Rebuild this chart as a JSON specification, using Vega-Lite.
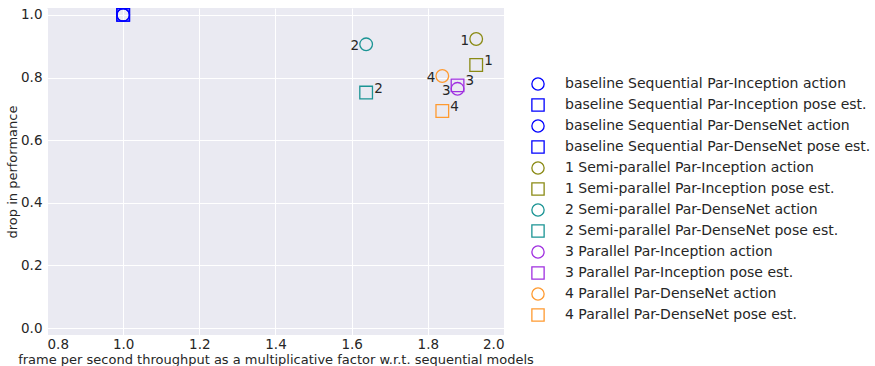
{
  "$schema": "https://vega.github.io/schema/vega-lite/v6.json",
  "autosize": "none",
  "width": 457,
  "height": 327,
  "padding": {"left": 47, "top": 8, "right": 371, "bottom": 31},
  "background": "white",
  "config": {
    "view": {"fill": "#EAEAF2", "stroke": null},
    "font": "DejaVu Sans",
    "axis": {
      "domain": false, "ticks": false, "gridColor": "white", "gridWidth": 1,
      "labelFont": "DejaVu Sans", "labelFontSize": 13.5, "labelColor": "#262626",
      "titleFont": "DejaVu Sans", "titleFontSize": 13, "titleColor": "#262626", "titleFontWeight": "normal"
    },
    "legend": {
      "labelFont": "DejaVu Sans", "labelFontSize": 14, "labelColor": "#262626", "labelLimit": 400
    }
  },
  "data": {
    "values": [
      {"series": "baseline Sequential Par-Inception action", "fps": 1.0, "drop": 1.0, "label": ""},
      {"series": "baseline Sequential Par-Inception pose est.", "fps": 1.0, "drop": 1.0, "label": ""},
      {"series": "baseline Sequential Par-DenseNet action", "fps": 1.0, "drop": 1.0, "label": ""},
      {"series": "baseline Sequential Par-DenseNet pose est.", "fps": 1.0, "drop": 1.0, "label": ""},
      {"series": "1 Semi-parallel Par-Inception action", "fps": 1.927, "drop": 0.923, "label": "1", "kind": "action"},
      {"series": "1 Semi-parallel Par-Inception pose est.", "fps": 1.927, "drop": 0.840, "label": "1", "kind": "pose"},
      {"series": "2 Semi-parallel Par-DenseNet action", "fps": 1.638, "drop": 0.906, "label": "2", "kind": "action"},
      {"series": "2 Semi-parallel Par-DenseNet pose est.", "fps": 1.638, "drop": 0.752, "label": "2", "kind": "pose"},
      {"series": "3 Parallel Par-Inception action", "fps": 1.878, "drop": 0.764, "label": "3", "kind": "action"},
      {"series": "3 Parallel Par-Inception pose est.", "fps": 1.878, "drop": 0.775, "label": "3", "kind": "pose"},
      {"series": "4 Parallel Par-DenseNet action", "fps": 1.838, "drop": 0.805, "label": "4", "kind": "action"},
      {"series": "4 Parallel Par-DenseNet pose est.", "fps": 1.838, "drop": 0.693, "label": "4", "kind": "pose"}
    ]
  },
  "layer": [
    {
      "mark": {"type": "point", "filled": false, "strokeWidth": 1.3, "size": 160, "opacity": 1},
      "encoding": {
        "x": {"field": "fps", "type": "quantitative",
              "scale": {"domain": [0.8, 2.0], "nice": false, "zero": false},
              "axis": {"values": [0.8, 1.0, 1.2, 1.4, 1.6, 1.8, 2.0], "format": ".1f", "labelPadding": 2, "titlePadding": 3,
                       "title": "frame per second throughput as a multiplicative factor w.r.t. sequential models"}},
        "y": {"field": "drop", "type": "quantitative",
              "scale": {"domain": [-0.022, 1.022], "nice": false, "zero": false},
              "axis": {"values": [0.0, 0.2, 0.4, 0.6, 0.8, 1.0], "format": ".1f", "labelPadding": 5, "titlePadding": 1,
                       "title": "drop in performance"}},
        "color": {"field": "series", "type": "nominal",
                  "scale": {
                    "domain": [
                      "baseline Sequential Par-Inception action",
                      "baseline Sequential Par-Inception pose est.",
                      "baseline Sequential Par-DenseNet action",
                      "baseline Sequential Par-DenseNet pose est.",
                      "1 Semi-parallel Par-Inception action",
                      "1 Semi-parallel Par-Inception pose est.",
                      "2 Semi-parallel Par-DenseNet action",
                      "2 Semi-parallel Par-DenseNet pose est.",
                      "3 Parallel Par-Inception action",
                      "3 Parallel Par-Inception pose est.",
                      "4 Parallel Par-DenseNet action",
                      "4 Parallel Par-DenseNet pose est."
                    ],
                    "range": ["#0000ff", "#0000ff", "#0000ff", "#0000ff", "#8a8a14", "#8a8a14", "#1a9494", "#1a9494", "#a030e0", "#a030e0", "#ff9a30", "#ff9a30"]
                  },
                  "legend": {"title": null, "orient": "none", "legendX": 484, "legendY": 69,
                             "symbolSize": 150, "symbolStrokeWidth": 1.3, "rowPadding": 3, "labelOffset": 20, "padding": 0, "symbolOffset": 0}},
        "shape": {"field": "series", "type": "nominal",
                  "scale": {
                    "domain": [
                      "baseline Sequential Par-Inception action",
                      "baseline Sequential Par-Inception pose est.",
                      "baseline Sequential Par-DenseNet action",
                      "baseline Sequential Par-DenseNet pose est.",
                      "1 Semi-parallel Par-Inception action",
                      "1 Semi-parallel Par-Inception pose est.",
                      "2 Semi-parallel Par-DenseNet action",
                      "2 Semi-parallel Par-DenseNet pose est.",
                      "3 Parallel Par-Inception action",
                      "3 Parallel Par-Inception pose est.",
                      "4 Parallel Par-DenseNet action",
                      "4 Parallel Par-DenseNet pose est."
                    ],
                    "range": [
                      "M-1,0A1,1 0 1,0 1,0A1,1 0 1,0 -1,0Z", "M-1,-1H1V1H-1Z",
                      "M-1,0A1,1 0 1,0 1,0A1,1 0 1,0 -1,0Z", "M-1,-1H1V1H-1Z",
                      "M-1,0A1,1 0 1,0 1,0A1,1 0 1,0 -1,0Z", "M-1,-1H1V1H-1Z",
                      "M-1,0A1,1 0 1,0 1,0A1,1 0 1,0 -1,0Z", "M-1,-1H1V1H-1Z",
                      "M-1,0A1,1 0 1,0 1,0A1,1 0 1,0 -1,0Z", "M-1,-1H1V1H-1Z",
                      "M-1,0A1,1 0 1,0 1,0A1,1 0 1,0 -1,0Z", "M-1,-1H1V1H-1Z"
                    ]
                  }}
      }
    },
    {
      "transform": [{"filter": "datum.kind === 'action'"}],
      "mark": {"type": "text", "align": "right", "baseline": "middle", "dx": -7, "dy": 2, "fontSize": 13.5, "color": "#262626", "font": "DejaVu Sans"},
      "encoding": {
        "x": {"field": "fps", "type": "quantitative"},
        "y": {"field": "drop", "type": "quantitative"},
        "text": {"field": "label"}
      }
    },
    {
      "transform": [{"filter": "datum.kind === 'pose'"}],
      "mark": {"type": "text", "align": "left", "baseline": "middle", "dx": 8, "dy": -4, "fontSize": 13.5, "color": "#262626", "font": "DejaVu Sans"},
      "encoding": {
        "x": {"field": "fps", "type": "quantitative"},
        "y": {"field": "drop", "type": "quantitative"},
        "text": {"field": "label"}
      }
    }
  ]
}
